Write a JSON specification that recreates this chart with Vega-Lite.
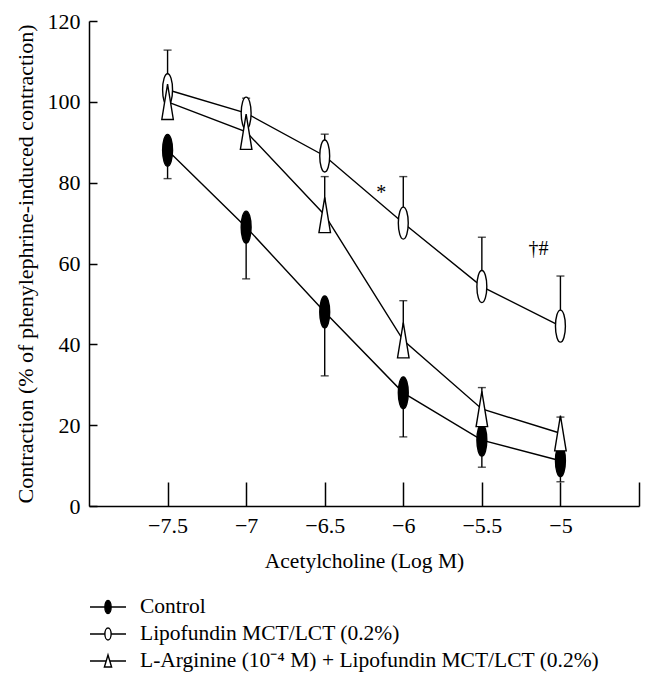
{
  "$schema": "https://vega.github.io/schema/vega-lite/v6.json",
  "width": 550,
  "height": 485,
  "autosize": {"type": "none"},
  "padding": {"left": 89, "top": 21, "right": 15, "bottom": 184},
  "background": "white",
  "config": {
    "view": {"stroke": null},
    "font": "Liberation Serif",
    "axis": {"grid": false, "domainColor": "black", "tickColor": "black", "labelColor": "black", "titleColor": "black", "labelFont": "Liberation Serif", "titleFont": "Liberation Serif", "titleFontWeight": "normal", "domainWidth": 1.5, "tickWidth": 1.5}
  },
  "datasets": {
    "pts": [
      {"logM": -7.5, "group": "Control", "value": 88, "hi": 81},
      {"logM": -7, "group": "Control", "value": 69, "hi": 56.2},
      {"logM": -6.5, "group": "Control", "value": 48, "hi": 32.2},
      {"logM": -6, "group": "Control", "value": 28, "hi": 17.1},
      {"logM": -5.5, "group": "Control", "value": 16.3, "hi": 9.6},
      {"logM": -5, "group": "Control", "value": 11.2, "hi": 6},
      {"logM": -7.5, "group": "Lipofundin MCT/LCT (0.2%)", "value": 103, "hi": 112.8},
      {"logM": -7, "group": "Lipofundin MCT/LCT (0.2%)", "value": 97.2, "hi": 100.9},
      {"logM": -6.5, "group": "Lipofundin MCT/LCT (0.2%)", "value": 86.6, "hi": 92},
      {"logM": -6, "group": "Lipofundin MCT/LCT (0.2%)", "value": 70, "hi": 81.5},
      {"logM": -5.5, "group": "Lipofundin MCT/LCT (0.2%)", "value": 54.3, "hi": 66.5},
      {"logM": -5, "group": "Lipofundin MCT/LCT (0.2%)", "value": 44.5, "hi": 56.9},
      {"logM": -7.5, "group": "L-Arginine (10⁻⁴ M) + Lipofundin MCT/LCT (0.2%)", "value": 100, "hi": null},
      {"logM": -7, "group": "L-Arginine (10⁻⁴ M) + Lipofundin MCT/LCT (0.2%)", "value": 92.6, "hi": null},
      {"logM": -6.5, "group": "L-Arginine (10⁻⁴ M) + Lipofundin MCT/LCT (0.2%)", "value": 72, "hi": 81.5},
      {"logM": -6, "group": "L-Arginine (10⁻⁴ M) + Lipofundin MCT/LCT (0.2%)", "value": 41, "hi": 50.8},
      {"logM": -5.5, "group": "L-Arginine (10⁻⁴ M) + Lipofundin MCT/LCT (0.2%)", "value": 24, "hi": 29.3},
      {"logM": -5, "group": "L-Arginine (10⁻⁴ M) + Lipofundin MCT/LCT (0.2%)", "value": 18, "hi": 22}
    ],
    "notes": [
      {"logM": -6.14, "value": 77.5, "label": "*"},
      {"logM": -5.14, "value": 63.5, "label": "†#"}
    ]
  },
  "layer": [
    {
      "data": {"name": "pts"},
      "mark": {"type": "line", "color": "black", "strokeWidth": 1.4},
      "encoding": {
        "x": {"field": "logM", "type": "quantitative", "scale": {"domain": [-8, -4.5], "nice": false, "zero": false},
          "axis": {"values": [-7.5, -7, -6.5, -6, -5.5, -5, -4.5], "format": "~g", "labelExpr": "datum.value === -4.5 ? '' : datum.label", "tickSize": -24, "labelPadding": 33, "labelFontSize": 22, "title": "Acetylcholine (Log M)", "titleFontSize": 21.5, "titlePadding": 14}},
        "y": {"field": "value", "type": "quantitative", "scale": {"domain": [0, 120], "nice": false},
          "axis": {"values": [0, 20, 40, 60, 80, 100, 120], "tickSize": -8, "labelPadding": 17, "labelFontSize": 22, "title": "Contraction (% of phenylephrine-induced contraction)", "titleFontSize": 22, "titlePadding": 10}},
        "detail": {"field": "group"}
      }
    },
    {
      "data": {"name": "pts"},
      "transform": [{"filter": "datum.hi != null"}],
      "mark": {"type": "rule", "color": "black", "strokeWidth": 1.4},
      "encoding": {
        "x": {"field": "logM", "type": "quantitative"},
        "y": {"field": "value", "type": "quantitative"},
        "y2": {"field": "hi"}
      }
    },
    {
      "data": {"name": "pts"},
      "transform": [{"filter": "datum.hi != null"}],
      "mark": {"type": "tick", "orient": "horizontal", "color": "black", "thickness": 1.4, "size": 8},
      "encoding": {
        "x": {"field": "logM", "type": "quantitative"},
        "y": {"field": "hi", "type": "quantitative"}
      }
    },
    {
      "data": {"name": "pts"},
      "mark": {"type": "point", "filled": true, "size": 1024, "stroke": "black", "strokeWidth": 1.4, "opacity": 1},
      "encoding": {
        "x": {"field": "logM", "type": "quantitative"},
        "y": {"field": "value", "type": "quantitative"},
        "shape": {"field": "group", "type": "nominal",
          "scale": {"range": ["M0,-1A0.31,1 0 1,1 0,1A0.31,1 0 1,1 0,-1Z", "M0,-1.1L0.36,1.1L-0.36,1.1Z", "M0,-1A0.31,1 0 1,1 0,1A0.31,1 0 1,1 0,-1Z"]},
          "legend": null},
        "fill": {"field": "group", "type": "nominal",
          "scale": {"domain": ["Control", "Lipofundin MCT/LCT (0.2%)", "L-Arginine (10⁻⁴ M) + Lipofundin MCT/LCT (0.2%)"], "range": ["black", "white", "white"]},
          "legend": {
            "title": null, "orient": "none", "legendX": 6, "legendY": 573, "direction": "vertical",
            "symbolSize": 576, "symbolStrokeWidth": 1.4, "symbolStrokeColor": "black",
            "labelFont": "Liberation Serif", "labelFontSize": 21.5, "labelColor": "black", "labelOffset": 19, "rowPadding": 3, "labelLimit": 600,
            "encoding": {"symbols": {
              "shape": {"value": {"expr": "datum.value === 'Control' ? 'M-1.5,0H1.5M0,-0.54A0.26,0.54 0 1,1 0,0.54A0.26,0.54 0 1,1 0,-0.54Z' : datum.value === 'Lipofundin MCT/LCT (0.2%)' ? 'M-1.5,0H-0.26M0.26,0H1.5M0,-0.5A0.26,0.5 0 1,1 0,0.5A0.26,0.5 0 1,1 0,-0.5Z' : 'M-1.5,0H-0.15M0.15,0H1.5M0,-0.5L0.3,0.5L-0.3,0.5Z'"}},
              "stroke": {"value": "black"},
              "strokeWidth": {"value": 1.4}
            }}
          }}
      }
    },
    {
      "data": {"name": "notes"},
      "mark": {"type": "text", "font": "Liberation Serif", "fontSize": 20, "color": "black"},
      "encoding": {
        "x": {"field": "logM", "type": "quantitative"},
        "y": {"field": "value", "type": "quantitative"},
        "text": {"field": "label"}
      }
    }
  ]
}
